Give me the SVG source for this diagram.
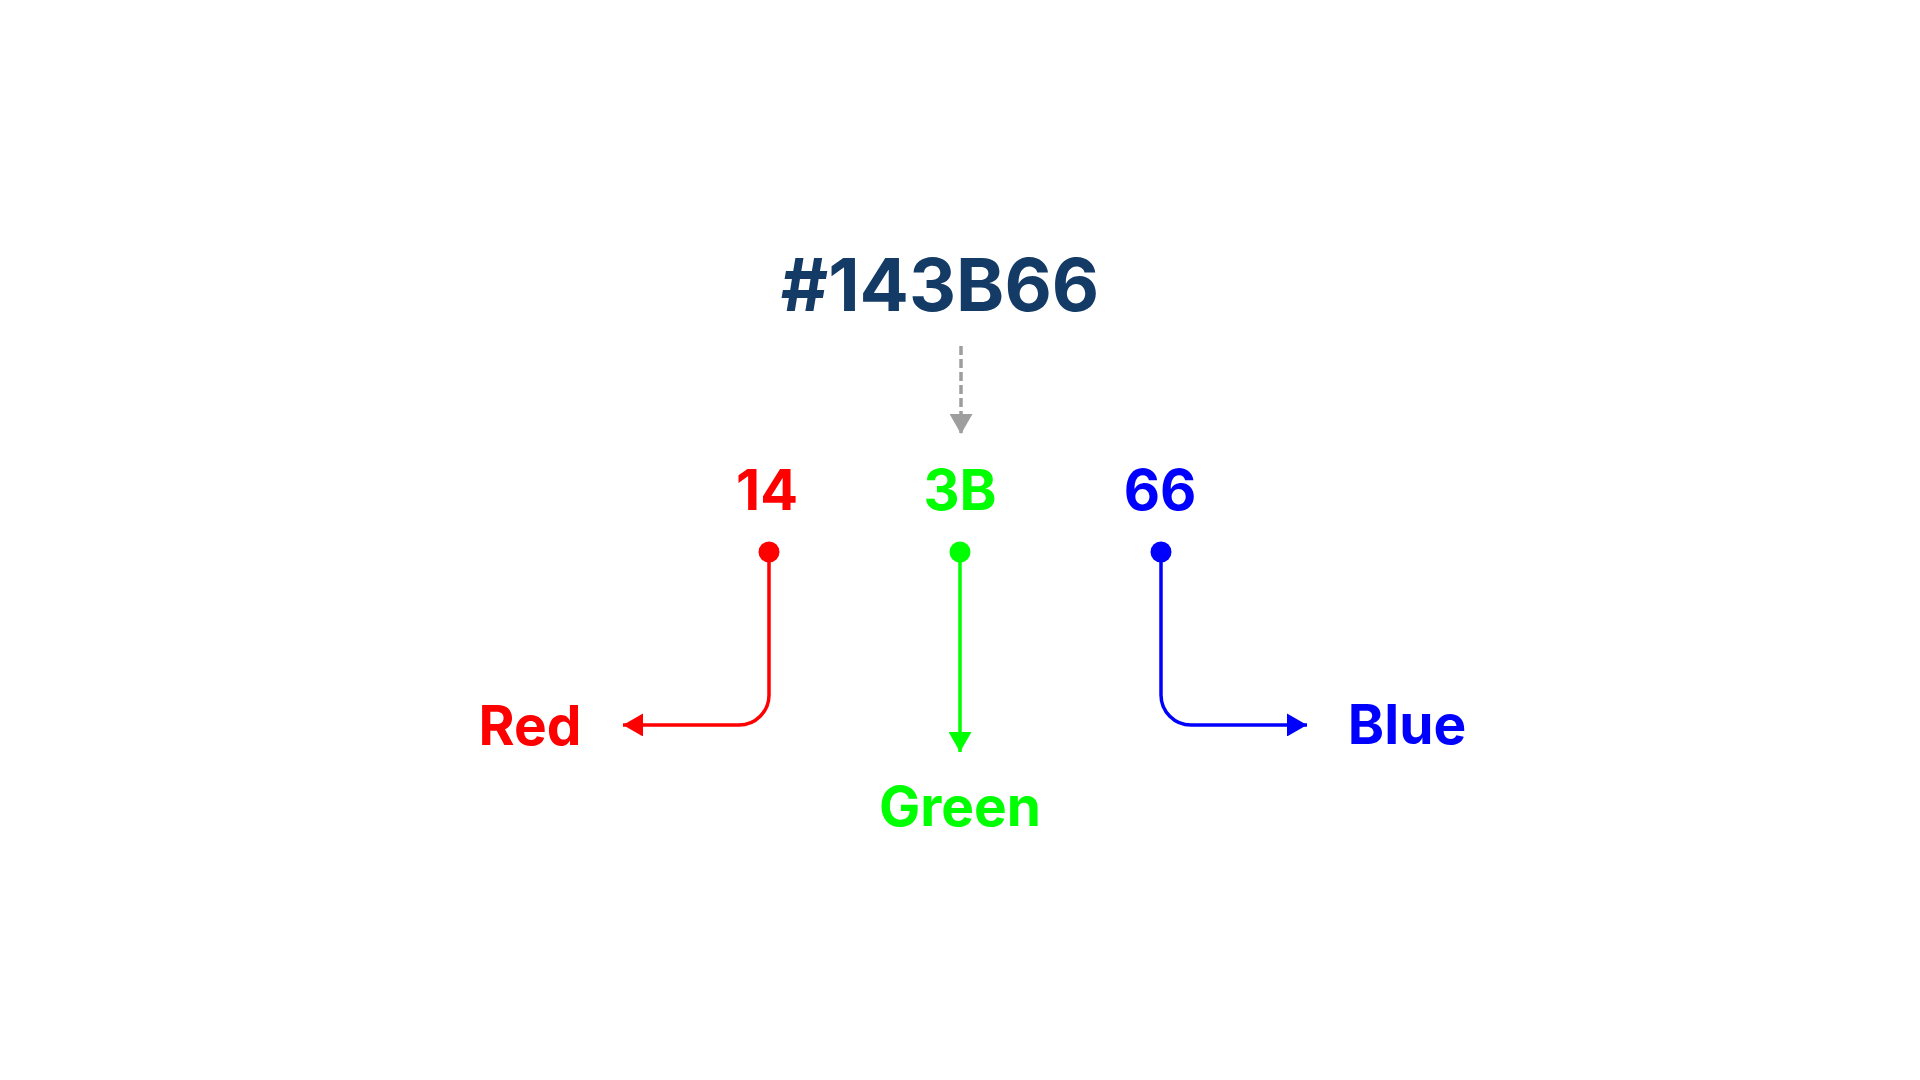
<svg xmlns="http://www.w3.org/2000/svg" width="1920" height="1080" viewBox="0 0 1920 1080">
<style>
text{font-family:Inter,"Liberation Sans",sans-serif;font-weight:700;text-anchor:middle}
.title{font-size:73px;fill:#143B66}
.hex{font-size:56px}
.lbl{font-size:55px}
.conn{fill:none;stroke-width:3.5}
</style>
<defs>
<marker id="ah-red" markerWidth="20" markerHeight="23" refX="20" refY="11.5" orient="auto" markerUnits="userSpaceOnUse"><path d="M0,0 L20,11.5 L0,23 Z" fill="#FF0000"/></marker>
<marker id="ah-green" markerWidth="20" markerHeight="23" refX="20" refY="11.5" orient="auto" markerUnits="userSpaceOnUse"><path d="M0,0 L20,11.5 L0,23 Z" fill="#00FF00"/></marker>
<marker id="ah-blue" markerWidth="20" markerHeight="23" refX="20" refY="11.5" orient="auto" markerUnits="userSpaceOnUse"><path d="M0,0 L20,11.5 L0,23 Z" fill="#0000FF"/></marker>
<marker id="ah-gray" markerWidth="20" markerHeight="23" refX="20" refY="11.5" orient="auto" markerUnits="userSpaceOnUse"><path d="M0,0 L20,11.5 L0,23 Z" fill="#9E9E9E"/></marker>
</defs>
<rect width="1920" height="1080" fill="#FFFFFF"/>
<g id="title"><text class="title" x="940" y="311">#143B66</text></g>
<g id="hex-red"><text class="hex" x="767" y="510" fill="#FF0000">14</text><circle cx="769" cy="552" r="10.5" fill="#FF0000"/></g>
<g id="hex-green"><text class="hex" x="960" y="510" fill="#00FF00">3B</text><circle cx="960" cy="552" r="10.5" fill="#00FF00"/></g>
<g id="hex-blue"><text class="hex" x="1160" y="510" fill="#0000FF">66</text><circle cx="1161" cy="552" r="10.5" fill="#0000FF"/></g>
<g id="label-red"><text class="lbl" x="530" y="745" fill="#FF0000">Red</text></g>
<g id="label-green"><text class="lbl" x="960" y="826" fill="#00FF00">Green</text></g>
<g id="label-blue"><text class="lbl" x="1407" y="744" fill="#0000FF">Blue</text></g>
<g id="connectors">
<path class="conn" d="M961,346 L961,434" stroke="#9E9E9E" stroke-dasharray="9,4" marker-end="url(#ah-gray)"/>
<path class="conn" d="M769,552 L769,695 A30,30 0 0 1 739,725 L623,725" stroke="#FF0000" marker-end="url(#ah-red)"/>
<path class="conn" d="M960,552 L960,752" stroke="#00FF00" marker-end="url(#ah-green)"/>
<path class="conn" d="M1161,552 L1161,695 A30,30 0 0 0 1191,725 L1307,725" stroke="#0000FF" marker-end="url(#ah-blue)"/>
</g>
</svg>
